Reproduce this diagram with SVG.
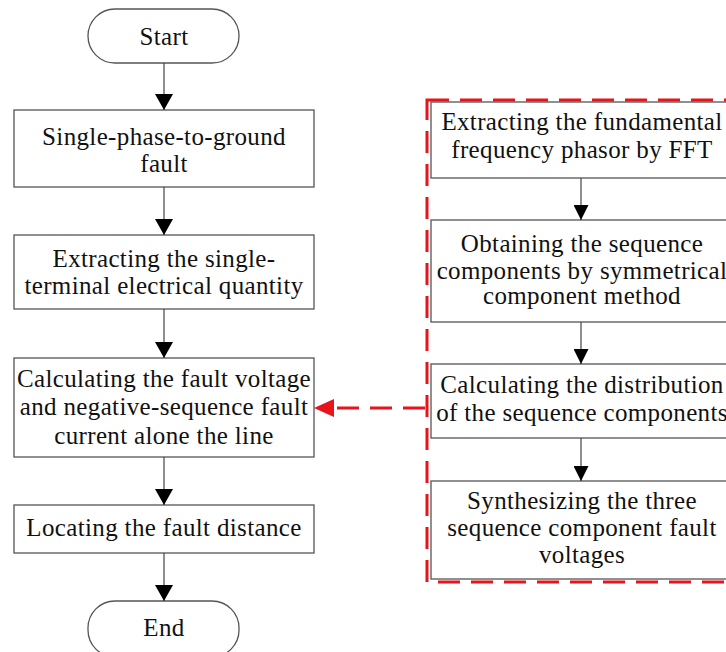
<svg xmlns="http://www.w3.org/2000/svg" width="726" height="652" viewBox="0 0 726 652">
<style>
.box{fill:#fff;stroke:#555;stroke-width:1.3}
.t{font-family:"Liberation Serif","Times New Roman",serif;font-size:25px;letter-spacing:0.35px;fill:#111;text-anchor:middle}
.ln{stroke:#444;stroke-width:1.2;fill:none}
.red{stroke:#e8141c;stroke-width:3;fill:none;stroke-dasharray:22 11}
</style>
<defs>
<marker id="ah" markerUnits="userSpaceOnUse" markerWidth="16" markerHeight="18" refX="16" refY="9" orient="auto" viewBox="0 0 16 18">
<polygon points="0,0 16,9 0,18" fill="#000"/>
</marker>
<marker id="ahs" markerUnits="userSpaceOnUse" markerWidth="15" markerHeight="15" refX="15" refY="7.5" orient="auto" viewBox="0 0 15 15">
<polygon points="0,0 15,7.5 0,15" fill="#000"/>
</marker>
</defs>
<rect x="0" y="0" width="726" height="652" fill="#fff"/>
<g id="start"><rect class="box" x="88" y="9" width="151" height="54" rx="27"/><text class="t" x="164" y="45">Start</text></g>
<g id="n1"><rect class="box" x="14" y="110" width="300" height="77"/><text class="t" x="164" y="145">Single-phase-to-ground</text><text class="t" x="164" y="172">fault</text></g>
<g id="n2"><rect class="box" x="14" y="235" width="300" height="74"/><text class="t" x="164" y="267">Extracting the single-</text><text class="t" x="164" y="294">terminal electrical quantity</text></g>
<g id="n3"><rect class="box" x="14" y="358" width="300" height="99"/><text class="t" x="164" y="387">Calculating the fault voltage</text><text class="t" x="164" y="415">and negative-sequence fault</text><text class="t" x="164" y="444">current alone the line</text></g>
<g id="n4"><rect class="box" x="14" y="505" width="300" height="48"/><text class="t" x="164" y="536">Locating the fault distance</text></g>
<g id="end"><rect class="box" x="88" y="601" width="151" height="56" rx="27"/><text class="t" x="164" y="636">End</text></g>
<g id="group"><rect class="red" x="427" y="100" width="320" height="482"/></g>
<g id="r1"><rect class="box" x="431" y="102" width="302" height="76"/><text class="t" x="582" y="130">Extracting the fundamental</text><text class="t" x="582" y="158">frequency phasor by FFT</text></g>
<g id="r2"><rect class="box" x="431" y="220" width="302" height="102"/><text class="t" x="582" y="252">Obtaining the sequence</text><text class="t" x="582" y="279">components by symmetrical</text><text class="t" x="582" y="304">component method</text></g>
<g id="r3"><rect class="box" x="431" y="364" width="302" height="74"/><text class="t" x="582" y="393">Calculating the distribution</text><text class="t" x="582" y="421">of the sequence components</text></g>
<g id="r4"><rect class="box" x="431" y="481" width="302" height="98"/><text class="t" x="582" y="509">Synthesizing the three</text><text class="t" x="582" y="536">sequence component fault</text><text class="t" x="582" y="563">voltages</text></g>
<g id="connectors">
<line class="ln" x1="164" y1="63" x2="164" y2="110" marker-end="url(#ah)"/>
<line class="ln" x1="164" y1="187" x2="164" y2="235" marker-end="url(#ah)"/>
<line class="ln" x1="164" y1="309" x2="164" y2="358" marker-end="url(#ah)"/>
<line class="ln" x1="164" y1="457" x2="164" y2="505" marker-end="url(#ah)"/>
<line class="ln" x1="164" y1="553" x2="164" y2="601" marker-end="url(#ah)"/>
<line class="ln" x1="581" y1="178" x2="581" y2="220" marker-end="url(#ahs)"/>
<line class="ln" x1="581" y1="322" x2="581" y2="364" marker-end="url(#ahs)"/>
<line class="ln" x1="581" y1="438" x2="581" y2="481" marker-end="url(#ahs)"/>
<line class="red" x1="425" y1="408" x2="332" y2="408" stroke-dasharray="20 12"/>
<polygon points="314,408 334,399 334,417" fill="#e8141c"/>
</g>
</svg>
